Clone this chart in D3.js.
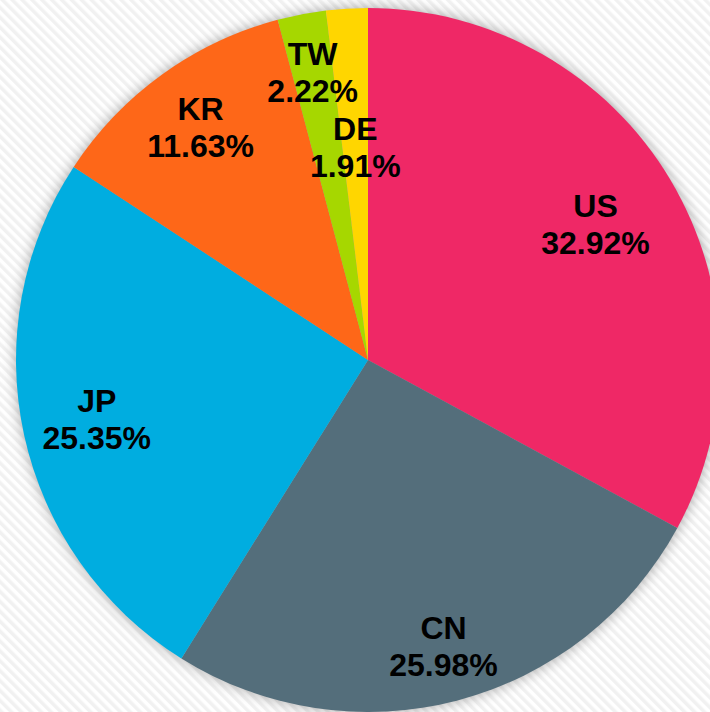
<!DOCTYPE html>
<html>
<head>
<meta charset="utf-8">
<script src="https://cdn.jsdelivr.net/npm/d3@7"></script>
<style>
  html, body { margin: 0; padding: 0; background: #fff; overflow: hidden; }
  svg { display: block; }
</style>
</head>
<body>
<div id="chart"></div>
<script>
// data
var countries = ["US", "CN", "JP", "KR", "TW", "DE"];
var shares = [32.92, 25.98, 25.35, 11.63, 2.22, 1.91];
var colors = ["#ef2866", "#546e7b", "#00ade0", "#fe6718", "#a6d700", "#ffd600"];
// how far out each label sits, as a fraction of the radius
var labelPos = [0.752, 0.843, 0.789, 0.813, 0.833, 0.604];

var width = 710, height = 712;
var cx = 368, cy = 360, radius = 352;

var svg = d3.select("#chart").append("svg")
    .attr("width", width)
    .attr("height", height);

var defs = svg.append("defs");

// striped background
var pat = defs.append("pattern")
    .attr("id", "stripes")
    .attr("patternUnits", "userSpaceOnUse")
    .attr("width", 7)
    .attr("height", 7)
    .attr("patternTransform", "rotate(-45)");
pat.append("rect").attr("width", 7).attr("height", 7).attr("fill", "#ffffff");
pat.append("rect").attr("width", 3.5).attr("height", 7).attr("fill", "#f1f1f1");

var shadow = defs.append("filter")
    .attr("id", "shadow")
    .attr("x", "-20%").attr("y", "-20%")
    .attr("width", "140%").attr("height", "140%");
shadow.append("feGaussianBlur")
    .attr("in", "SourceAlpha")
    .attr("stdDeviation", 7);
shadow.append("feComponentTransfer")
  .append("feFuncA")
    .attr("type", "linear")
    .attr("slope", 0.35);

svg.append("rect")
    .attr("width", width)
    .attr("height", height)
    .attr("fill", "url(#stripes)");

var g = svg.append("g")
    .attr("transform", "translate(" + cx + "," + cy + ")");

var data = countries.map(function(c, i) {
  return { name: c, value: shares[i], color: colors[i], lp: labelPos[i] };
});

var pie = d3.pie()
    .value(function(d) { return d.value; })
    .sort(null);

var arc = d3.arc()
    .innerRadius(0)
    .outerRadius(radius);

var arcs = pie(data);

// shadow disc under the pie
g.append("circle")
    .attr("r", radius)
    .attr("fill", "#000")
    .attr("filter", "url(#shadow)");

g.selectAll(".slice")
    .data(arcs)
  .enter().append("path")
    .attr("class", "slice")
    .attr("d", arc)
    .attr("fill", function(d) { return d.data.color; });

var labels = g.selectAll(".lbl")
    .data(arcs)
  .enter().append("text")
    .attr("class", "lbl")
    .attr("text-anchor", "middle")
    .attr("font-family", "Liberation Sans, Arial, sans-serif")
    .attr("font-weight", "bold")
    .attr("font-size", 32)
    .attr("fill", "#000")
    .attr("transform", function(d) {
      var a = (d.startAngle + d.endAngle) / 2;
      var r = radius * d.data.lp;
      return "translate(" + (Math.sin(a) * r) + "," + (-Math.cos(a) * r) + ")";
    });

labels.append("tspan")
    .attr("x", 0)
    .attr("y", -7.5)
    .text(function(d) { return d.data.name; });

labels.append("tspan")
    .attr("x", 0)
    .attr("y", 29.5)
    .text(function(d) { return d.data.value.toFixed(2) + "%"; });
</script>
</body>
</html>
